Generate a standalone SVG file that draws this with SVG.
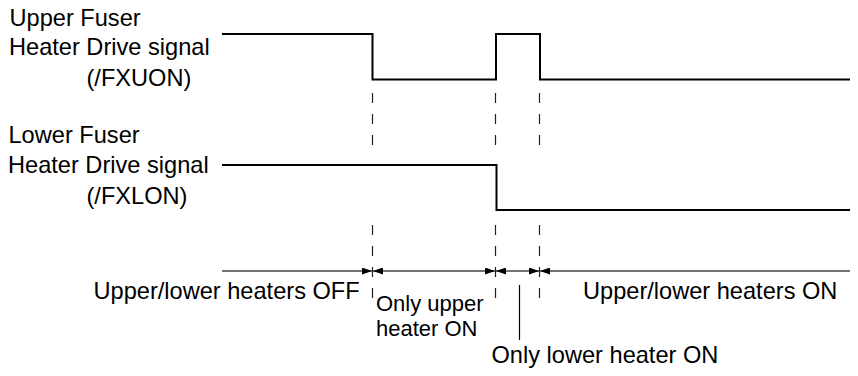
<svg xmlns="http://www.w3.org/2000/svg" width="858" height="376" viewBox="0 0 858 376">
<defs>
<style>
text { font-family: "Liberation Sans", Arial, sans-serif; font-size: 23.6px; fill: #000; }
text.small { font-size: 22px; }
.sig { fill: none; stroke: #000; stroke-width: 2; stroke-linejoin: miter; }
.dash { stroke: #222; stroke-width: 1.2; stroke-dasharray: 10 11; fill: none; }
.axis { stroke: #444; stroke-width: 1.6; fill: none; marker-start: url(#ah); marker-end: url(#ah); }
.solid { stroke: #000; stroke-width: 1.2; fill: none; }
</style>
<marker id="ah" viewBox="0 0 10 7" refX="10" refY="3.5" markerWidth="10" markerHeight="7" markerUnits="userSpaceOnUse" orient="auto-start-reverse">
<path d="M0,0 L10,3.5 L0,7 z" fill="#000"/>
</marker>
</defs>
<rect width="858" height="376" fill="#fff"/>

<g id="upper-signal">
<text x="9.5" y="26">Upper Fuser</text>
<text x="9" y="55">Heater Drive signal</text>
<text x="86.5" y="86">(/FXUON)</text>
<path class="sig" d="M222,34 H372.5 V79.5 H496 V34 H540 V79.5 H850"/>
</g>

<g id="lower-signal">
<text x="8.5" y="142.5">Lower Fuser</text>
<text x="8" y="173">Heater Drive signal</text>
<text x="86.5" y="204">(/FXLON)</text>
<path class="sig" d="M222,165 H496.5 V210 H850"/>
</g>

<g id="connectors">
<path class="dash" d="M372.5,93 V146 M495.5,93 V146 M539.5,93 V146"/>
<path class="dash" d="M372.5,225 V298 M495.5,225 V298 M539.5,225 V298"/>
<line x1="222" y1="271" x2="372" y2="271" style="stroke:#444;stroke-width:1.6;marker-end:url(#ah)"/>
<line class="axis" x1="373" y1="271" x2="495" y2="271"/>
<line class="axis" x1="496" y1="271" x2="539" y2="271"/>
<line x1="540" y1="271" x2="850" y2="271" style="stroke:#444;stroke-width:1.6;marker-start:url(#ah)"/>
<line class="solid" x1="519.5" y1="285" x2="519.5" y2="340"/>
</g>

<g id="labels">
<text x="93.5" y="299">Upper/lower heaters OFF</text>
<text class="small" x="376" y="311">Only upper</text>
<text class="small" x="376" y="336">heater ON</text>
<text x="583" y="298.5">Upper/lower heaters ON</text>
<text x="491.5" y="363">Only lower heater ON</text>
</g>
</svg>
